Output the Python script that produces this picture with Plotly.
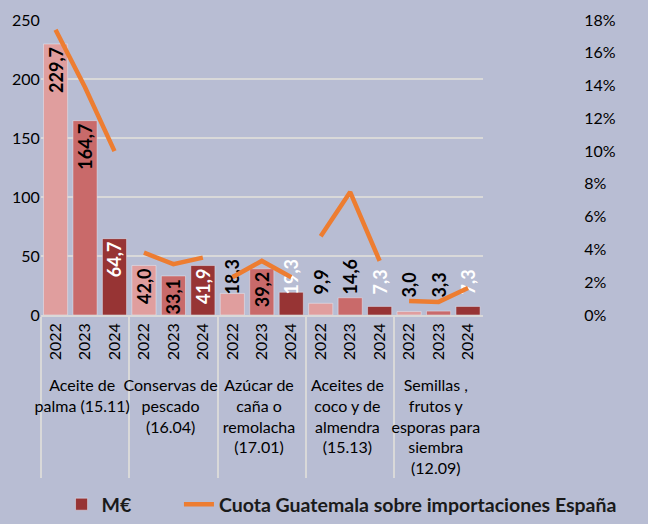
import plotly.graph_objects as go

# Data
grupos = ["Aceite de<br>palma (15.11)", "Conservas de<br>pescado<br>(16.04)",
          "Azúcar de<br>caña o<br>remolacha<br>(17.01)", "Aceites de<br>coco y de<br>almendra<br>(15.13)",
          "Semillas ,<br>frutos y<br>esporas para<br>siembra<br>(12.09)"]
anios = ["2022", "2023", "2024"]
meur_2022 = [229.7, 42.0, 18.3, 9.9, 3.0]
meur_2023 = [164.7, 33.1, 39.2, 14.6, 3.3]
meur_2024 = [64.7, 41.9, 19.3, 7.3, 7.3]
# cuota (%) por grupo: 2022, 2023, 2024
cuota = [[0.174, 0.139, 0.100],
         [0.038, 0.031, 0.035],
         [0.023, 0.033, 0.023],
         [0.048, 0.075, 0.033],
         [0.0085, 0.008, 0.0165]]

bar_colors = {"2022": "#e09e9e", "2023": "#c96a6a", "2024": "#973434"}
text_colors = {"2022": "black", "2023": "black", "2024": "white"}
bg = "#b8bdd3"
font_fam = "Lato, 'DejaVu Sans', sans-serif"

fig = go.Figure()

# barras: etiquetas al final si caben, si no desde la base (con algo de aire)
pad = "\u00a0" * 4
for anio, vals in zip(anios, [meur_2022, meur_2023, meur_2024]):
    for anchor, cond in [("end", lambda v: v > 30), ("start", lambda v: v <= 30)]:
        idx = [i for i, v in enumerate(vals) if cond(v)]
        if not idx:
            continue
        fig.add_trace(go.Bar(
            x=[[grupos[i] for i in idx], [anio] * len(idx)],
            y=[vals[i] for i in idx],
            name="M€" + "\u00a0" * 9,
            legendgroup="meur",
            showlegend=(anio == "2024" and anchor == "end"),
            marker_color=bar_colors[anio],
            text=[(pad if anchor == "start" else "") + f"{vals[i]:.1f}".replace(".", ",") for i in idx],
            textposition="inside",
            insidetextanchor=anchor,
            constraintext="none",
            textangle=-90,
            textfont=dict(color=text_colors[anio], size=18, family=font_fam, weight="bold"),
            cliponaxis=False,
        ))

for i, g in enumerate(grupos):
    fig.add_trace(go.Scatter(
        x=[[g] * 3, anios],
        y=cuota[i],
        yaxis="y2",
        mode="lines",
        name="Cuota Guatemala sobre importaciones España",
        legendgroup="cuota",
        showlegend=(i == 0),
        line=dict(color="#ed7d31", width=4.5),
    ))

fig.update_layout(
    width=648, height=524,
    paper_bgcolor=bg, plot_bgcolor=bg,
    margin=dict(l=0, r=0, t=20, b=208),
    font=dict(family=font_fam, size=16, color="black"),
    barmode="overlay",
    bargap=0.18,
    xaxis=dict(
        domain=[0.063, 0.745],
        tickangle=-90,
        tickfont=dict(size=16),
        showline=True, linecolor="#d9d9d9", linewidth=1.5,
        dividercolor="#d9d9d9", dividerwidth=1.5,
        ticks="", automargin=False,
    ),
    yaxis=dict(
        range=[0, 250], dtick=50,
        showgrid=True, gridcolor="#d9d9d9", gridwidth=1.5,
        zeroline=False, ticks="", automargin=False,
        tickfont=dict(size=16),
    ),
    yaxis2=dict(
        overlaying="y", anchor="free", position=0.9, side="right",
        range=[0, 0.18], dtick=0.02, tickformat=".0%",
        showgrid=False, zeroline=False, ticks="", automargin=False,
        tickfont=dict(size=16),
    ),
    legend=dict(
        orientation="h", x=0.095, y=-0.64, xanchor="left", yanchor="middle",
        font=dict(size=19.5, weight="bold", color="#1a1a1a"),
        bgcolor="rgba(0,0,0,0)",
    ),
)

fig.write_html("out.html", config={"displayModeBar": False},
               post_script=f"document.body.style.margin='0';document.body.style.background='{bg}';")
